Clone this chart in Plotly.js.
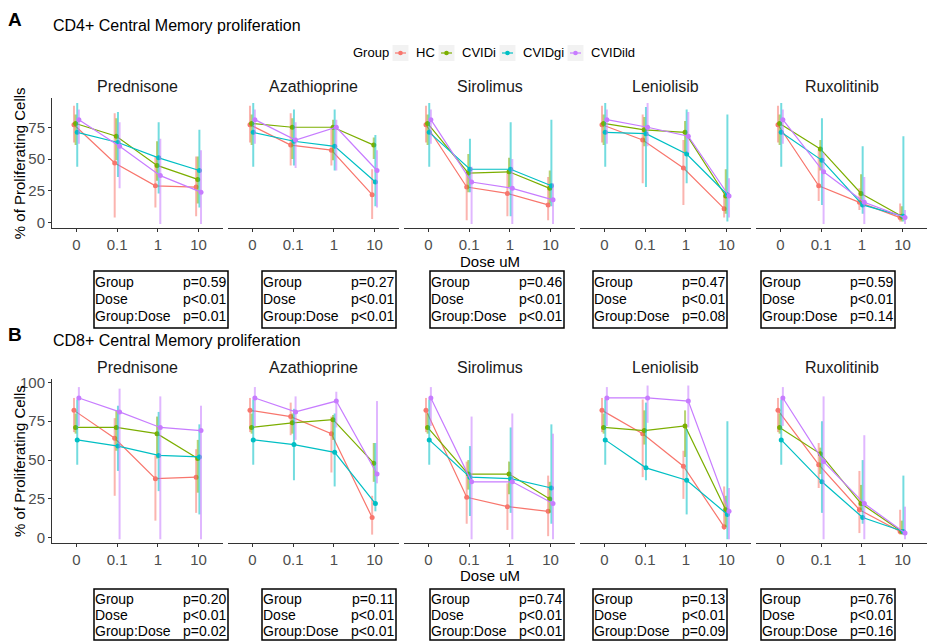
<!DOCTYPE html>
<html><head><meta charset="utf-8">
<script src="https://cdn.plot.ly/plotly-3.0.1.min.js"></script>
<style>html,body{margin:0;padding:0;background:#fff;}#chart{width:929px;height:641px;}</style>
</head><body><div id="chart"></div>
<script>
// ---------------- DATA ----------------
const doses = ['0', '0.1', '1', '10'];
const drugs = ['Prednisone', 'Azathioprine', 'Sirolimus', 'Leniolisib', 'Ruxolitinib'];
const groups = ['HC', 'CVIDi', 'CVIDgi', 'CVIDild'];
const panelTitles = ['CD4+ Central Memory proliferation', 'CD8+ Central Memory proliferation'];
const panelLetters = ['A', 'B'];
const yTicksA = [0, 25, 50, 75];
const yTicksB = [0, 25, 50, 75, 100];

// CD4+ (panel A): rows = drugs, cols = doses
const cd4MeanHC      = [[77,47,29,28],[77,61,57,22],[77,28,23,14],[77,65,43,11],[77,29,16,4]];
const cd4MeanCVIDi   = [[78,68,45,34],[78,75,75,61],[78,39,40,27],[78,73,71,21],[78,58,23,5]];
const cd4MeanCVIDgi  = [[71,63,51,41],[71,64,60,32],[71,42,42,29],[71,70,54,22],[71,49,14,5]];
const cd4MeanCVIDild = [[81,60,37,24],[81,65,75,41],[81,32,27,18],[81,75,68,21],[81,40,16,4]];
const cd4LoHC      = [[63,4,12,5],[63,45,45,3],[63,2,5,2],[63,31,14,4],[63,17,10,1]];
const cd4HiHC      = [[92,86,52,52],[92,86,73,42],[92,41,39,36],[92,85,65,23],[92,57,27,15]];
const cd4LoCVIDi   = [[61,49,33,15],[61,50,49,50],[61,24,28,15],[61,60,55,7],[61,41,13,1]];
const cd4HiCVIDi   = [[85,82,64,52],[85,82,81,67],[85,54,51,41],[85,83,80,42],[85,65,38,13]];
const cd4LoCVIDgi  = [[44,36,23,12],[44,45,41,13],[44,24,5,13],[44,28,31,1],[44,14,7,1]];
const cd4HiCVIDgi  = [[94,87,79,73],[94,89,89,69],[94,66,79,81],[94,91,89,85],[94,82,60,68]];
const cd4LoCVIDild = [[62,27,-1,-1],[62,43,41,12],[62,-1,-1,-1],[62,60,55,4],[62,-1,-1,-1]];
const cd4HiCVIDild = [[89,79,66,57],[89,79,81,57],[89,44,50,31],[89,94,87,35],[89,55,36,10]];

// CD8+ (panel B)
const cd8MeanHC      = [[82,64,38,39],[82,78,67,13],[82,26,20,17],[82,67,46,7],[82,47,18,4]];
const cd8MeanCVIDi   = [[71,71,67,51],[71,74,76,48],[71,41,41,25],[71,69,72,18],[71,54,22,4]];
const cd8MeanCVIDgi  = [[63,59,53,52],[63,60,55,22],[63,39,38,32],[63,45,37,15],[63,36,13,4]];
const cd8MeanCVIDild = [[90,81,71,69],[90,81,88,41],[90,36,36,22],[90,90,88,17],[90,49,22,3]];
const cd8LoHC      = [[68,27,11,16],[68,66,42,2],[68,9,5,1],[68,39,25,5],[68,32,3,2]];
const cd8HiHC      = [[90,77,53,57],[90,87,78,27],[90,49,35,40],[90,89,56,33],[90,61,43,18]];
const cd8LoCVIDi   = [[67,56,51,29],[67,67,63,36],[67,31,28,16],[67,60,52,7],[67,41,18,2]];
const cd8HiCVIDi   = [[80,82,78,63],[80,80,79,61],[80,50,49,36],[80,82,82,27],[80,58,34,11]];
const cd8LoCVIDgi  = [[47,43,30,15],[47,37,33,17],[47,14,16,9],[47,37,15,-1],[47,16,9,2]];
const cd8HiCVIDgi  = [[89,85,81,73],[89,83,80,61],[89,59,71,73],[89,87,70,75],[89,75,50,40]];
const cd8LoCVIDild = [[72,-1,-1,-1],[72,63,71,35],[72,-1,-1,-1],[72,74,71,-1],[72,-1,-1,-1]];
const cd8HiCVIDild = [[97,96,91,85],[97,91,94,88],[97,78,80,67],[97,98,98,32],[97,91,66,20]];

// statistics boxes
const statLabels = ['Group', 'Dose', 'Group:Dose'];
const statGroupA = ['p=0.59', 'p=0.27', 'p=0.46', 'p=0.47', 'p=0.59'];
const statDoseA  = ['p<0.01', 'p<0.01', 'p<0.01', 'p<0.01', 'p<0.01'];
const statIntA   = ['p=0.01', 'p<0.01', 'p<0.01', 'p=0.08', 'p=0.14'];
const statGroupB = ['p=0.20', 'p=0.11', 'p=0.74', 'p=0.13', 'p=0.76'];
const statDoseB  = ['p<0.01', 'p<0.01', 'p<0.01', 'p<0.01', 'p<0.01'];
const statIntB   = ['p=0.02', 'p<0.01', 'p<0.01', 'p=0.09', 'p=0.16'];

// ---------------- STYLE / LAYOUT ----------------
const W = 929, H = 641;
const FONT = 'Liberation Sans, Arial, Helvetica, sans-serif';
const colors = ['#F8766D', '#7CAE00', '#00BFC4', '#C77CFF'];
const barColors = ['rgba(248,118,109,0.55)', 'rgba(124,174,0,0.55)', 'rgba(0,191,196,0.55)', 'rgba(199,124,255,0.55)'];
const dodge = [-0.06, -0.02, 0.02, 0.06];
const px = p => p / W;
const py = p => 1 - p / H;

const means = [[cd4MeanHC, cd4MeanCVIDi, cd4MeanCVIDgi, cd4MeanCVIDild], [cd8MeanHC, cd8MeanCVIDi, cd8MeanCVIDgi, cd8MeanCVIDild]];
const lows  = [[cd4LoHC, cd4LoCVIDi, cd4LoCVIDgi, cd4LoCVIDild], [cd8LoHC, cd8LoCVIDi, cd8LoCVIDgi, cd8LoCVIDild]];
const highs = [[cd4HiHC, cd4HiCVIDi, cd4HiCVIDgi, cd4HiCVIDild], [cd8HiHC, cd8HiCVIDi, cd8HiCVIDgi, cd8HiCVIDild]];
const stats = [[statGroupA, statDoseA, statIntA], [statGroupB, statDoseB, statIntB]];

const facetLeft0 = 52, facetStep = 176, facetW = 171;
const rowTop = [98, 379], rowBot = [228.3, 543];
const yRanges = [[-4.4, 98], [-3.4, 102.2]];
const yTicks = [yTicksA, yTicksB];
const stripY = [87, 367];
const doseTitleY = [261, 575];
const panelTitleY = [25, 340];
const letterY = [19, 334];
const boxLeft = [94, 262, 430, 593, 761], boxW = 134;
const boxTop = [271, 589], boxBot = [328, 640];
const lineY = [[282, 299, 316], [599, 615, 631]];
// legend placement (pixels)
const legendY = 53, legendTitleX = 352;
const legendKeyX = [400.5, 446.5, 507.5, 575.5];
const legendTextX = [415, 461, 522, 590];

const traces = [];
const layout = {
  width: W, height: H,
  margin: {l: 0, r: 0, t: 0, b: 0},
  paper_bgcolor: '#fff', plot_bgcolor: '#fff',
  font: {family: FONT, color: '#000'},
  showlegend: false,
  annotations: [], shapes: []
};

for (let r = 0; r < 2; r++) {
  for (let c = 0; c < 5; c++) {
    const n = r * 5 + c + 1;
    const sfx = n === 1 ? '' : String(n);
    const xl = facetLeft0 + facetStep * c;
    layout['xaxis' + sfx] = {
      domain: [px(xl), px(xl + facetW)], anchor: 'y' + sfx,
      range: [-0.6, 3.6], tickvals: [0, 1, 2, 3], ticktext: doses,
      showline: true, linecolor: '#333', linewidth: 1, ticks: 'outside', ticklen: 3, tickcolor: '#333',
      tickfont: {size: 15, color: '#4D4D4D', family: FONT}, showgrid: false, zeroline: false, fixedrange: true
    };
    layout['yaxis' + sfx] = {
      domain: [py(rowBot[r]), py(rowTop[r])], anchor: 'x' + sfx,
      range: yRanges[r], tickvals: yTicks[r], showgrid: false, zeroline: false,
      showline: c === 0, linecolor: '#333', linewidth: 1,
      ticks: c === 0 ? 'outside' : '', ticklen: 3, tickcolor: '#333',
      showticklabels: c === 0, tickfont: {size: 15, color: '#4D4D4D', family: FONT}, fixedrange: true
    };
    for (let g = 0; g < 4; g++) {
      const m = means[r][g][c], lo = lows[r][g][c], hi = highs[r][g][c];
      traces.push({
        type: 'scatter', mode: 'lines+markers',
        x: doses.map((d, i) => i + dodge[g]), y: m,
        xaxis: 'x' + sfx, yaxis: 'y' + sfx,
        name: groups[g], legendgroup: groups[g], showlegend: false,
        line: {color: colors[g], width: 1.2},
        marker: {color: colors[g], size: 5},
        error_y: {type: 'data', symmetric: false,
          array: m.map((v, i) => hi[i] - v), arrayminus: m.map((v, i) => v - lo[i]),
          color: barColors[g], thickness: 2, width: 0},
        hoverinfo: 'skip'
      });
    }
    // strip title
    layout.annotations.push({text: drugs[c], xref: 'paper', yref: 'paper', x: px(xl + facetW / 2), y: py(stripY[r]),
      xanchor: 'center', yanchor: 'middle', showarrow: false, font: {size: 16, color: '#1A1A1A'}});
    // stats box
    const bl = boxLeft[c];
    layout.shapes.push({type: 'rect', xref: 'paper', yref: 'paper', x0: px(bl), x1: px(bl + boxW), y0: py(boxBot[r]), y1: py(boxTop[r]),
      line: {color: '#000', width: 1.5}, fillcolor: 'rgba(0,0,0,0)'});
    for (let k = 0; k < 3; k++) {
      layout.annotations.push({text: statLabels[k], xref: 'paper', yref: 'paper', x: px(bl), y: py(lineY[r][k]),
        xanchor: 'left', yanchor: 'middle', showarrow: false, font: {size: 14, color: '#000'}, borderpad: 0});
      layout.annotations.push({text: stats[r][k][c], xref: 'paper', yref: 'paper', x: px(bl + boxW - 1), y: py(lineY[r][k]),
        xanchor: 'right', yanchor: 'middle', showarrow: false, font: {size: 14, color: '#000'}, borderpad: 0});
    }
  }
  layout.annotations.push({text: '<b>' + panelLetters[r] + '</b>', xref: 'paper', yref: 'paper', x: px(15), y: py(letterY[r]),
    xanchor: 'center', yanchor: 'middle', showarrow: false, font: {size: 19, color: '#000'}});
  layout.annotations.push({text: panelTitles[r], xref: 'paper', yref: 'paper', x: px(51), y: py(panelTitleY[r]),
    xanchor: 'left', yanchor: 'middle', showarrow: false, font: {size: 16, color: '#000'}});
  layout.annotations.push({text: '% of Proliferating Cells', xref: 'paper', yref: 'paper', x: px(19), y: py((rowTop[r] + rowBot[r]) / 2),
    xanchor: 'center', yanchor: 'middle', textangle: -90, showarrow: false, font: {size: 15, color: '#000'}});
  layout.annotations.push({text: 'Dose uM', xref: 'paper', yref: 'paper', x: px(489.5), y: py(doseTitleY[r]),
    xanchor: 'center', yanchor: 'middle', showarrow: false, font: {size: 15, color: '#000'}, borderpad: 0});
}

// legend (keys drawn as shapes, labels as annotations)
layout.annotations.push({text: 'Group', xref: 'paper', yref: 'paper', x: px(legendTitleX), y: py(legendY),
  xanchor: 'left', yanchor: 'middle', showarrow: false, font: {size: 13, color: '#000'}, borderpad: 0});
for (let g = 0; g < 4; g++) {
  const cx = legendKeyX[g];
  layout.shapes.push({type: 'rect', xref: 'paper', yref: 'paper', x0: px(cx - 8), x1: px(cx + 8), y0: py(legendY + 8), y1: py(legendY - 8),
    line: {width: 0}, fillcolor: '#F2F2F2'});
  layout.shapes.push({type: 'line', xref: 'paper', yref: 'paper', x0: px(cx - 5.5), x1: px(cx + 5.5), y0: py(legendY), y1: py(legendY),
    line: {color: colors[g], width: 1.2}});
  layout.shapes.push({type: 'circle', xref: 'paper', yref: 'paper', x0: px(cx - 2.3), x1: px(cx + 2.3), y0: py(legendY + 2.3), y1: py(legendY - 2.3),
    line: {width: 0}, fillcolor: colors[g]});
  layout.annotations.push({text: groups[g], xref: 'paper', yref: 'paper', x: px(legendTextX[g]), y: py(legendY),
    xanchor: 'left', yanchor: 'middle', showarrow: false, font: {size: 13, color: '#000'}, borderpad: 0});
}

Plotly.newPlot('chart', traces, layout, {displayModeBar: false, staticPlot: true});
</script></body></html>
